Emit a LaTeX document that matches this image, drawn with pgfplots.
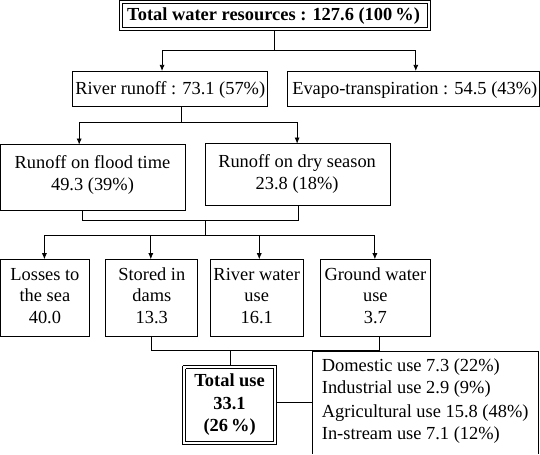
\documentclass[border=0pt]{standalone}
\usepackage{pgfplots}
\pgfplotsset{compat=1.18}
\usepackage{fontspec}
\setmainfont{Liberation Serif}
\usetikzlibrary{arrows.meta}
\begin{document}
\begin{tikzpicture}
\begin{axis}[width=540pt,height=454pt,scale only axis,
  xmin=0,xmax=540,ymin=0,ymax=454,y dir=reverse,hide axis,clip=false]
\tikzset{ln/.style={line width=0.8pt,black,solid,no markers},
  ar/.style={ln,-{Latex[length=6pt,width=5pt]}}}
% boxes
\addplot[ln] coordinates {(128,13)(432,13)(432,42)(128,42)(128,13)};
\addplot[ln] coordinates {(131,16)(429,16)(429,39)(131,39)(131,16)};
\addplot[ln] coordinates {(82,82)(273,82)(273,117)(82,117)(82,82)};
\addplot[ln] coordinates {(293,82)(539,82)(539,117)(293,117)(293,82)};
\addplot[ln] coordinates {(12,154)(193,154)(193,218)(12,218)(12,154)};
\addplot[ln] coordinates {(212,153)(393,153)(393,213)(212,213)(212,153)};
\addplot[ln] coordinates {(12,266)(99,266)(99,341)(12,341)(12,266)};
\addplot[ln] coordinates {(115,266)(205,266)(205,341)(115,341)(115,266)};
\addplot[ln] coordinates {(217,266)(308,266)(308,341)(217,341)(217,266)};
\addplot[ln] coordinates {(325,266)(432,266)(432,341)(325,341)(325,266)};
\addplot[ln] coordinates {(190,370)(282,370)(282,447)(190,447)(190,370)};
\addplot[ln] coordinates {(193,373)(279,373)(279,444)(193,444)(193,373)};
\addplot[ln] coordinates {(317,456)(317,356)(538,356)(538,456)};
% connectors
\addplot[ln] coordinates {(280,42)(280,62)};
\addplot[ln] coordinates {(170,62)(418,62)};
\addplot[ar] coordinates {(170,62)(170,82)};
\addplot[ar] coordinates {(418,62)(418,82)};
\addplot[ln] coordinates {(189,117)(189,132)};
\addplot[ln] coordinates {(89,132)(302,132)};
\addplot[ar] coordinates {(89,132)(89,154)};
\addplot[ar] coordinates {(302,132)(302,153)};
\addplot[ln] coordinates {(92,218)(92,228)(303,228)(303,213)};
\addplot[ln] coordinates {(212,228)(212,243)};
\addplot[ln] coordinates {(55,243)(378,243)};
\addplot[ar] coordinates {(55,243)(55,266)};
\addplot[ar] coordinates {(159,243)(159,266)};
\addplot[ar] coordinates {(265,243)(265,266)};
\addplot[ar] coordinates {(378,243)(378,266)};
\addplot[ln] coordinates {(160,341)(160,355)(382,355)(382,341)};
\addplot[ln] coordinates {(237,355)(237,370)};
\addplot[ln] coordinates {(282,406)(317,406)};
% texts
\tikzset{t/.style={font=\fontsize{18}{21}\selectfont,inner sep=0pt,text height=12.5pt,text depth=3.5pt}}
\node[t,font=\fontsize{18}{21}\selectfont\bfseries] at (axis cs:279,28) {Total water resources : 127.6 (100\,\%)};
\node[t] at (axis cs:178,100) {River runoff : 73.1 (57\%)};
\node[t] at (axis cs:417,100) {Evapo-transpiration : 54.5 (43\%)};
\node[t] at (axis cs:102,173) {Runoff on flood time};
\node[t] at (axis cs:102,194) {49.3 (39\%)};
\node[t] at (axis cs:302,172) {Runoff on dry season};
\node[t] at (axis cs:302,193) {23.8 (18\%)};
\node[t] at (axis cs:55.5,282) {Losses to};
\node[t] at (axis cs:55.5,303) {the sea};
\node[t] at (axis cs:55.5,324) {40.0};
\node[t] at (axis cs:160,282) {Stored in};
\node[t] at (axis cs:160,303) {dams};
\node[t] at (axis cs:160,324) {13.3};
\node[t] at (axis cs:262.5,282) {River water};
\node[t] at (axis cs:262.5,303) {use};
\node[t] at (axis cs:262.5,324) {16.1};
\node[t] at (axis cs:378.5,282) {Ground water};
\node[t] at (axis cs:378.5,303) {use};
\node[t] at (axis cs:378.5,324) {3.7};
\node[t,font=\fontsize{18}{21}\selectfont\bfseries] at (axis cs:236,386) {Total use};
\node[t,font=\fontsize{18}{21}\selectfont\bfseries] at (axis cs:236,408) {33.1};
\node[t,font=\fontsize{18}{21}\selectfont\bfseries] at (axis cs:236,430) {(26\,\%)};
\node[t,anchor=west] at (axis cs:326,371) {Domestic use 7.3 (22\%)};
\node[t,anchor=west] at (axis cs:326,393) {Industrial use 2.9 (9\%)};
\node[t,anchor=west] at (axis cs:326,416) {Agricultural use 15.8 (48\%)};
\node[t,anchor=west] at (axis cs:326,438) {In-stream use 7.1 (12\%)};
\end{axis}
\end{tikzpicture}
\end{document}
